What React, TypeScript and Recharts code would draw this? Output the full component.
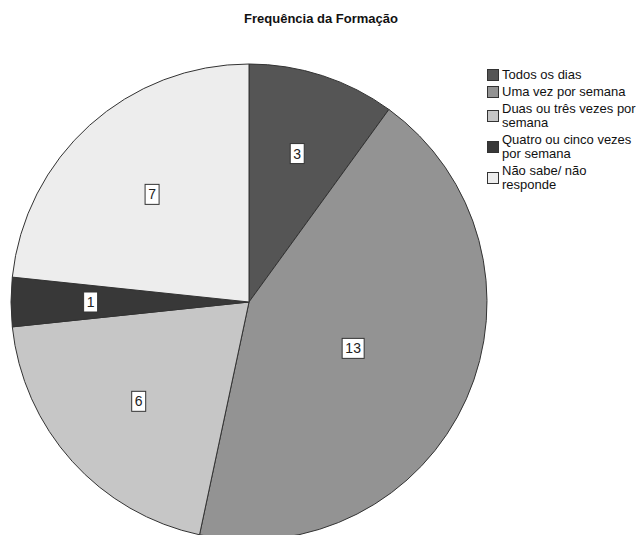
import { PieChart, Pie, Cell } from 'recharts'

/* ── Data ── */

const CATEGORIES = [
  'Todos os dias',
  'Uma vez por semana',
  'Duas ou três vezes por semana',
  'Quatro ou cinco vezes por semana',
  'Não sabe/ não responde',
]
const COUNTS = [3, 13, 6, 1, 7]
const LEGEND_LINES = [
  ['Todos os dias'],
  ['Uma vez por semana'],
  ['Duas ou três vezes por', 'semana'],
  ['Quatro ou cinco vezes', 'por semana'],
  ['Não sabe/ não', 'responde'],
]

const COLORS = ['#555555', '#939393', '#c6c6c6', '#383838', '#ededed']

const FONT = '"Liberation Sans", Arial, sans-serif'
const W = 641
const H = 535
const CX = 249
const CY = 302
const R = 238

const data = CATEGORIES.map((name, i) => ({ name, value: COUNTS[i] }))

/* ── Label at the centroid of each slice (SPSS style) ── */

const RAD = Math.PI / 180

function SliceLabel(props: any) {
  const { cx, cy, midAngle, outerRadius, percent, value } = props
  const theta = (percent ?? 0) * 2 * Math.PI
  const r = theta > 0 ? (2 * outerRadius * Math.sin(theta / 2)) / (1.5 * theta) : 0
  const x = cx + r * Math.cos(-midAngle * RAD)
  const y = cy + r * Math.sin(-midAngle * RAD)
  const txt = String(value)
  const bw = txt.length * 8 + 6
  const bh = 20
  return (
    <g>
      <rect x={x - bw / 2} y={y - bh / 2} width={bw} height={bh} fill="#ffffff" stroke="#333333" strokeWidth={1} />
      <text x={x} y={y + 5} textAnchor="middle" fontSize={14} fontFamily={FONT} fill="#222222">
        {txt}
      </text>
    </g>
  )
}

/* ── Legend ── */

function LegendBox() {
  const LH = 14
  let base = 79
  const items = LEGEND_LINES.map((lines, i) => {
    const first = base
    base += lines.length * LH + 3
    const blockTop = first - 10
    const blockBottom = first + (lines.length - 1) * LH
    const sq = (blockTop + blockBottom) / 2 - 5.5
    return (
      <g key={i}>
        <rect x={487.5} y={Math.round(sq) + 0.5} width={11} height={11} fill={COLORS[i]} stroke="#333333" strokeWidth={1} />
        {lines.map((l, j) => (
          <text key={j} x={502} y={first + j * LH} fontSize={13} fontFamily={FONT} fill="#111111">
            {l}
          </text>
        ))}
      </g>
    )
  })
  return <g>{items}</g>
}

export default function App() {
  return (
    <div style={{ position: 'absolute', left: 0, top: 0, width: W, height: H, background: '#ffffff', overflow: 'hidden' }}>
      <PieChart width={W} height={H} margin={{ top: 0, right: 0, bottom: 0, left: 0 }}>
        <text x={321} y={23} textAnchor="middle" fontSize={13} fontWeight="bold" fontFamily={FONT} fill="#111111">
          Frequência da Formação
        </text>
        <Pie
          data={data}
          dataKey="value"
          nameKey="name"
          cx={CX}
          cy={CY}
          outerRadius={R}
          innerRadius={0}
          startAngle={90}
          endAngle={-270}
          stroke="#333333"
          strokeWidth={1}
          label={SliceLabel}
          labelLine={false}
          isAnimationActive={false}
        >
          {data.map((d, i) => (
            <Cell key={d.name} fill={COLORS[i]} />
          ))}
        </Pie>
        <LegendBox />
      </PieChart>
    </div>
  )
}
